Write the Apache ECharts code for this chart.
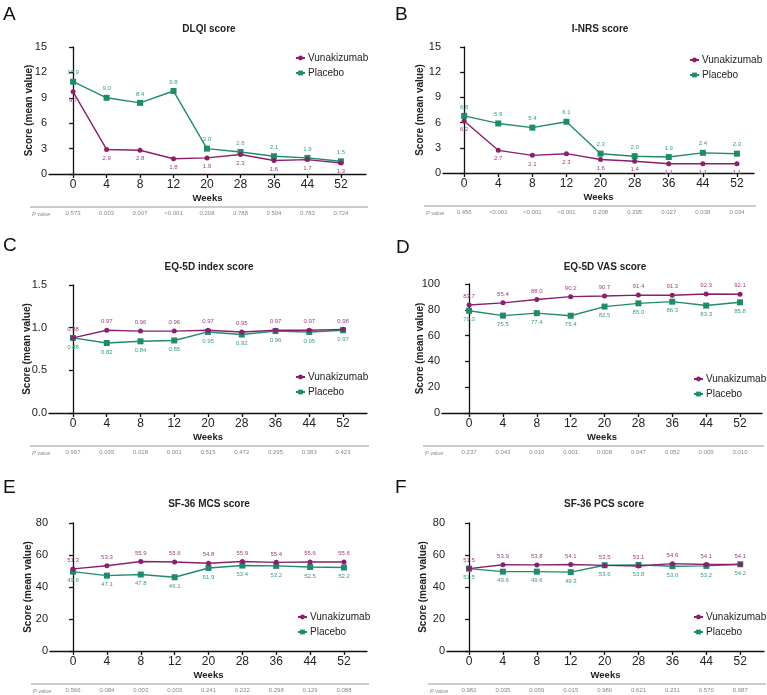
<!DOCTYPE html>
<html>
<head>
<meta charset="utf-8">
<script src="https://cdn.jsdelivr.net/npm/echarts@6/dist/echarts.min.js"></script>
<style>
html,body{margin:0;padding:0;background:#fff;}
#main{width:767px;height:695px;}
</style>
</head>
<body>
<div id="main"></div>
<script>
// weeks on x axis (plotted evenly, like categories)
var weeks = ['0', '4', '8', '12', '20', '28', '36', '44', '52'];

var dlqiVuna = [9.7, 2.9, 2.8, 1.8, 1.9, 2.3, 1.6, 1.7, 1.3];
var dlqiPbo = [10.9, 9.0, 8.4, 9.8, 3.0, 2.6, 2.1, 1.9, 1.5];
var dlqiP = ['0.573', '0.003', '0.007', '<0.001', '0.208', '0.788', '0.504', '0.783', '0.724'];

var inrsVuna = [6.2, 2.7, 2.1, 2.3, 1.6, 1.4, 1.1, 1.1, 1.1];
var inrsPbo = [6.8, 5.9, 5.4, 6.1, 2.3, 2.0, 1.9, 2.4, 2.3];
var inrsP = ['0.456', '<0.001', '<0.001', '<0.001', '0.208', '0.295', '0.027', '0.038', '0.034'];

var eqIdxVuna = [0.88, 0.97, 0.96, 0.96, 0.97, 0.95, 0.97, 0.97, 0.98];
var eqIdxPbo = [0.88, 0.82, 0.84, 0.85, 0.95, 0.92, 0.96, 0.95, 0.97];
var eqIdxP = ['0.997', '0.035', '0.018', '0.001', '0.515', '0.472', '0.295', '0.383', '0.423'];

var vasVuna = [83.7, 85.4, 88.0, 90.2, 90.7, 91.4, 91.3, 92.3, 92.1];
var vasPbo = [79.3, 75.5, 77.4, 75.4, 82.5, 85.0, 86.3, 83.3, 85.8];
var vasP = ['0.237', '0.043', '0.010', '0.001', '0.008', '0.047', '0.052', '0.009', '0.010'];

var mcsVuna = [51.3, 53.3, 55.9, 55.6, 54.8, 55.9, 55.4, 55.6, 55.6];
var mcsPbo = [49.6, 47.1, 47.8, 46.1, 51.9, 53.4, 53.2, 52.5, 52.2];
var mcsP = ['0.566', '0.084', '0.003', '0.003', '0.241', '0.222', '0.298', '0.129', '0.088'];

var pcsVuna = [51.5, 53.9, 53.8, 54.1, 53.5, 53.1, 54.6, 54.1, 54.1];
var pcsPbo = [51.5, 49.6, 49.6, 49.3, 53.6, 53.8, 53.0, 53.2, 54.2];
var pcsP = ['0.982', '0.035', '0.059', '0.015', '0.980', '0.621', '0.231', '0.570', '0.987'];

var PURPLE = '#8b1f6d';
var GREEN = '#1f8b6c';
var FONT = 'Liberation Sans, Arial, sans-serif';

var panels = [
    {letter: 'A', title: 'DLQI score', vuna: dlqiVuna, pbo: dlqiPbo, p: dlqiP, ymax: 15, step: 3, dec: 1, vunaPos: 'bottom',
     g: {l: 49, t: 47, w: 317, h: 127}, xmin: -0.72, xmax: 8.75, lt: [3, 5], tt: [209, 24], lg: [295, 53], ng: 15},
    {letter: 'B', title: 'I-NRS score', vuna: inrsVuna, pbo: inrsPbo, p: inrsP, ymax: 15, step: 3, dec: 1, vunaPos: 'bottom',
     g: {l: 443, t: 47, w: 311, h: 126}, xmin: -0.62, xmax: 8.5, lt: [395, 5], tt: [600, 24], lg: [689, 55], ng: 18},
    {letter: 'C', title: 'EQ-5D index score', vuna: eqIdxVuna, pbo: eqIdxPbo, p: eqIdxP, ymax: 1.5, step: 0.5, dec: 2, vunaPos: 'top',
     g: {l: 49, t: 285, w: 318, h: 128}, xmin: -0.71, xmax: 8.71, lt: [3, 236], tt: [209, 262], lg: [295, 372], ng: 17},
    {letter: 'D', title: 'EQ-5D VAS score', vuna: vasVuna, pbo: vasPbo, p: vasP, ymax: 100, step: 20, dec: 1, vunaPos: 'top',
     g: {l: 442, t: 284, w: 320, h: 129}, xmin: -0.8, xmax: 8.65, lt: [396, 238], tt: [605, 262], lg: [693, 374], ng: 17},
    {letter: 'E', title: 'SF-36 MCS score', vuna: mcsVuna, pbo: mcsPbo, p: mcsP, ymax: 80, step: 20, dec: 1, vunaPos: 'top',
     g: {l: 50, t: 523, w: 317, h: 128}, xmin: -0.68, xmax: 8.68, lt: [3, 478], tt: [209, 499], lg: [297, 612], ng: 17},
    {letter: 'F', title: 'SF-36 PCS score', vuna: pcsVuna, pbo: pcsPbo, p: pcsP, ymax: 80, step: 20, dec: 1, vunaPos: 'top',
     g: {l: 447, t: 523, w: 317, h: 128}, xmin: -0.65, xmax: 8.7, lt: [395, 478], tt: [604, 499], lg: [693, 612], ng: 19}
];

var idx = weeks.map(function (w, i) { return i; });
var option = {
    backgroundColor: '#fff',
    animation: false,
    textStyle: {fontFamily: FONT},
    title: [], legend: [], grid: [], xAxis: [], yAxis: [], series: [], graphic: []
};

panels.forEach(function (pn, k) {
    var g = pn.g;
    option.title.push({
        text: pn.letter, left: pn.lt[0], top: pn.lt[1], padding: 0,
        textStyle: {fontSize: 19, fontWeight: 'normal', color: '#111', fontFamily: FONT}
    });
    option.title.push({
        text: pn.title, left: pn.tt[0], top: pn.tt[1], padding: 0, textAlign: 'center',
        textStyle: {fontSize: 10, fontWeight: 'bold', color: '#222', fontFamily: FONT}
    });
    option.grid.push({left: g.l, top: g.t, width: g.w, height: g.h});
    option.xAxis.push({
        type: 'value', gridIndex: k, min: pn.xmin, max: pn.xmax,
        name: 'Weeks', nameLocation: 'middle', nameGap: 19,
        nameTextStyle: {fontSize: 9.5, fontWeight: 'bold', color: '#222'},
        axisLine: {lineStyle: {color: '#111', width: 1.3}},
        axisTick: {show: true, length: 4, customValues: idx, lineStyle: {color: '#111', width: 1.3}},
        axisLabel: {customValues: idx, fontSize: 12, color: '#222', margin: 5,
            formatter: function (v) { return weeks[Math.round(v)]; }},
        splitLine: {show: false}
    });
    // p value row, as a second bottom axis without line
    option.xAxis.push({
        type: 'value', gridIndex: k, min: pn.xmin, max: pn.xmax, position: 'bottom', offset: 34,
        axisLine: {show: false}, axisTick: {show: false}, splitLine: {show: false},
        axisLabel: {customValues: idx, fontSize: 6, color: '#888', margin: 2,
            formatter: function (v) { return pn.p[Math.round(v)]; }}
    });
    option.yAxis.push({
        type: 'value', gridIndex: k, min: 0, max: pn.ymax, interval: pn.step,
        name: 'Score (mean value)', nameLocation: 'middle', nameGap: pn.ng, nameMoveOverlap: false,
        nameTextStyle: {fontSize: 10, fontWeight: 'bold', color: '#222'},
        axisLine: {show: true, lineStyle: {color: '#111', width: 1.3}},
        axisTick: {show: true, length: 4, lineStyle: {color: '#111', width: 1.3}},
        axisLabel: {fontSize: 11, color: '#222', margin: 2,
            formatter: function (v) { return pn.step < 1 ? v.toFixed(1) : String(v); }},
        splitLine: {show: false}
    });
    var pboPos = pn.vunaPos === 'top' ? 'bottom' : 'top';
    option.series.push({
        name: 'Vunakizumab', type: 'line', xAxisIndex: 2 * k, yAxisIndex: k,
        data: pn.vuna.map(function (v, i) { return [i, v]; }),
        symbol: 'circle', symbolSize: 5, color: PURPLE,
        lineStyle: {width: 1.4, color: PURPLE},
        label: {show: true, position: pn.vunaPos, distance: 3, fontSize: 6, color: '#9a3f80',
            formatter: function (p) { return p.value[1].toFixed(pn.dec); }},
        z: 3
    });
    option.series.push({
        name: 'Placebo', type: 'line', xAxisIndex: 2 * k, yAxisIndex: k,
        data: pn.pbo.map(function (v, i) { return [i, v]; }),
        symbol: 'rect', symbolSize: 6, color: GREEN,
        lineStyle: {width: 1.4, color: GREEN},
        label: {show: true, position: pboPos, distance: 3, fontSize: 6, color: '#3a9c7f',
            formatter: function (p) { return p.value[1].toFixed(pn.dec); }},
        z: 2
    });
    option.legend.push({
        orient: 'vertical', left: pn.lg[0], top: pn.lg[1], itemGap: 5,
        itemWidth: 9, itemHeight: 6, padding: 0,
        textStyle: {fontSize: 10, color: '#222', padding: [0, 0, 0, -2]},
        data: ['Vunakizumab', 'Placebo']
    });
    var ly = g.t + g.h + 33;
    option.graphic.push({
        type: 'line', silent: true,
        shape: {x1: g.l - 19, y1: ly, x2: g.l + g.w + 2, y2: ly},
        style: {stroke: '#9a9a9a', lineWidth: 1}
    });
    option.graphic.push({
        type: 'text', silent: true, left: g.l - 17, top: ly + 4,
        style: {text: 'P value', fill: '#888', font: 'italic 5.5px ' + FONT}
    });
});

var chart = echarts.init(document.getElementById('main'));
chart.setOption(option);
window.addEventListener('resize', function () { chart.resize(); });
</script>
</body>
</html>
